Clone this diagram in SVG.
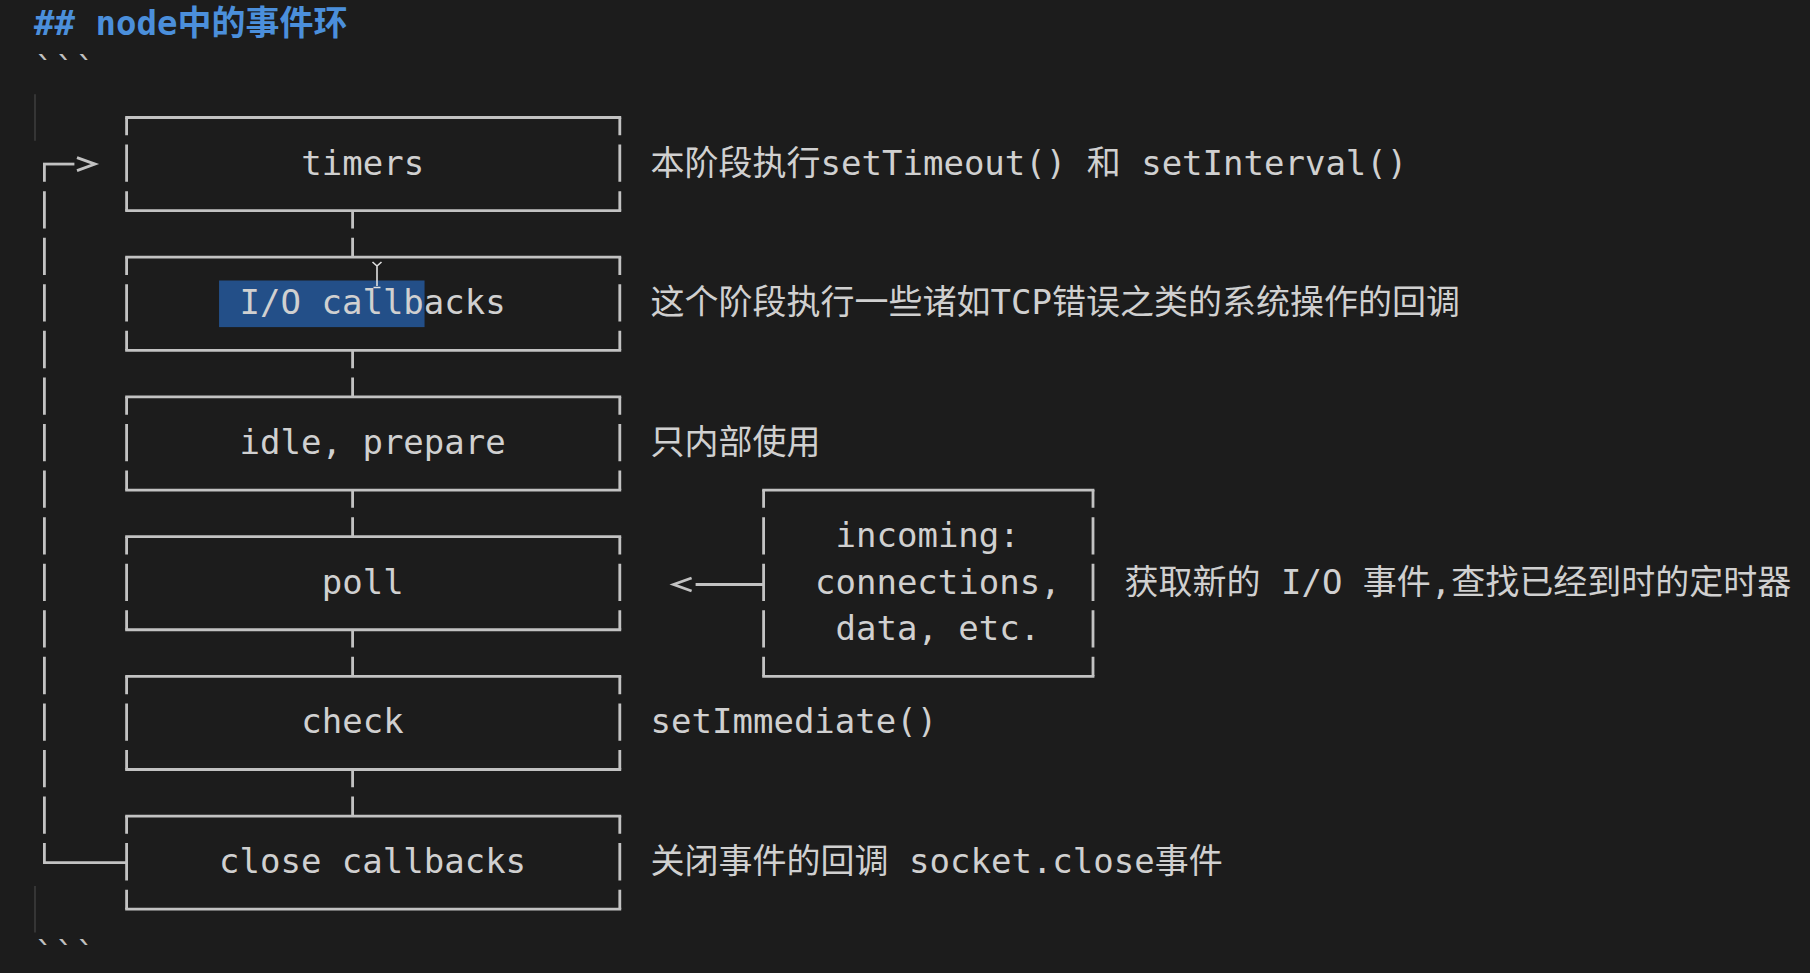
<svg xmlns="http://www.w3.org/2000/svg" width="1810" height="973" viewBox="0 0 1810 973">
<style>
.bg { fill:#1c1c1c; }
.ln { stroke:#c2c2c2; stroke-width:2.8; fill:none; }
.hz { stroke-linecap:square; }
.dash { stroke-dasharray:37.3 9.27; stroke-dashoffset:19.5; }
.t { font-family:'DejaVu Sans Mono','Noto Sans CJK SC',monospace; font-size:34px; fill:#d0d0d0; }
.h { fill:#4b8fdb; font-weight:bold; }
.fence { fill:#c0c0c0; }
.guide { stroke:#3d3d3d; stroke-width:1.6; }
</style>
<defs>
<marker id="chev" markerUnits="userSpaceOnUse" markerWidth="30" markerHeight="20" refX="-4" refY="6.5" orient="auto" overflow="visible">
<path d="M0 0 L18 6.5 L0 13" fill="none" stroke="#c2c2c2" stroke-width="2.8"/>
</marker>
</defs>
<rect class="bg" x="0" y="0" width="1810" height="973"/>

<g id="title"><text class="t h" x="34.1" y="34.5">## node中的事件环</text></g>
<g id="fence-top"><text class="t fence" x="34.1" y="81">```</text></g>
<g id="fence-bottom"><text class="t fence" x="34.1" y="966">```</text></g>
<g id="indent-guides">
<line class="guide" x1="35" y1="94.2" x2="35" y2="140.8"/>
<line class="guide" x1="35" y1="885.9" x2="35" y2="932.5"/>
</g>

<g id="selection"><rect x="219.05" y="280.5" width="205.5" height="46.6" fill="#234f88"/></g>

<g id="connectors">
<line class="ln dash" x1="352.6" y1="210.64" x2="352.6" y2="257.21"/>
<line class="ln dash" x1="352.6" y1="350.35" x2="352.6" y2="396.92"/>
<line class="ln dash" x1="352.6" y1="490.06" x2="352.6" y2="536.63"/>
<line class="ln dash" x1="352.6" y1="629.77" x2="352.6" y2="676.34"/>
<line class="ln dash" x1="352.6" y1="769.48" x2="352.6" y2="816.05"/>
<line class="ln dash" x1="44.4" y1="164.07" x2="44.4" y2="862.62"/>
<line class="ln hz" x1="44.4" y1="862.62" x2="126.6" y2="862.62"/>
<line class="ln hz" x1="44.4" y1="164.07" x2="73" y2="164.07" marker-end="url(#chev)"/>
<line class="ln" x1="763.6" y1="584.5" x2="695.6" y2="584.5" marker-end="url(#chev)"/>
</g>

<g id="node-timers">
<line class="ln hz" x1="126.6" y1="117.5" x2="619.8" y2="117.5"/>
<line class="ln hz" x1="126.6" y1="210.64" x2="619.8" y2="210.64"/>
<line class="ln dash" x1="126.6" y1="117.5" x2="126.6" y2="210.64"/>
<line class="ln dash" x1="619.8" y1="117.5" x2="619.8" y2="210.64"/>
<text class="t" x="301.3" y="174.5">timers</text>
</g>
<g id="node-io-callbacks">
<line class="ln hz" x1="126.6" y1="257.21" x2="619.8" y2="257.21"/>
<line class="ln hz" x1="126.6" y1="350.35" x2="619.8" y2="350.35"/>
<line class="ln dash" x1="126.6" y1="257.21" x2="126.6" y2="350.35"/>
<line class="ln dash" x1="619.8" y1="257.21" x2="619.8" y2="350.35"/>
<text class="t" x="239.6" y="314.2">I/O callbacks</text>
</g>
<g id="node-idle-prepare">
<line class="ln hz" x1="126.6" y1="396.92" x2="619.8" y2="396.92"/>
<line class="ln hz" x1="126.6" y1="490.06" x2="619.8" y2="490.06"/>
<line class="ln dash" x1="126.6" y1="396.92" x2="126.6" y2="490.06"/>
<line class="ln dash" x1="619.8" y1="396.92" x2="619.8" y2="490.06"/>
<text class="t" x="239.6" y="453.9">idle, prepare</text>
</g>
<g id="node-poll">
<line class="ln hz" x1="126.6" y1="536.63" x2="619.8" y2="536.63"/>
<line class="ln hz" x1="126.6" y1="629.77" x2="619.8" y2="629.77"/>
<line class="ln dash" x1="126.6" y1="536.63" x2="126.6" y2="629.77"/>
<line class="ln dash" x1="619.8" y1="536.63" x2="619.8" y2="629.77"/>
<text class="t" x="321.8" y="593.6">poll</text>
</g>
<g id="node-check">
<line class="ln hz" x1="126.6" y1="676.34" x2="619.8" y2="676.34"/>
<line class="ln hz" x1="126.6" y1="769.48" x2="619.8" y2="769.48"/>
<line class="ln dash" x1="126.6" y1="676.34" x2="126.6" y2="769.48"/>
<line class="ln dash" x1="619.8" y1="676.34" x2="619.8" y2="769.48"/>
<text class="t" x="301.3" y="733.3">check</text>
</g>
<g id="node-close-callbacks">
<line class="ln hz" x1="126.6" y1="816.05" x2="619.8" y2="816.05"/>
<line class="ln hz" x1="126.6" y1="909.19" x2="619.8" y2="909.19"/>
<line class="ln dash" x1="126.6" y1="816.05" x2="126.6" y2="909.19"/>
<line class="ln dash" x1="619.8" y1="816.05" x2="619.8" y2="909.19"/>
<text class="t" x="219.05" y="873">close callbacks</text>
</g>
<g id="node-incoming">
<line class="ln hz" x1="763.6" y1="490.06" x2="1093" y2="490.06"/>
<line class="ln hz" x1="763.6" y1="676.34" x2="1093" y2="676.34"/>
<line class="ln dash" x1="763.6" y1="490.06" x2="763.6" y2="676.34"/>
<line class="ln dash" x1="1093" y1="490.06" x2="1093" y2="676.34"/>
<text class="t" x="835.55" y="547">incoming:</text>
<text class="t" x="815" y="593.6">connections,</text>
<text class="t" x="835.55" y="640.2">data, etc.</text>
</g>

<g id="desc-timers"><text class="t" x="650.6" y="174.5" xml:space="preserve">本阶段执行setTimeout() 和 setInterval()</text></g>
<g id="desc-io"><text class="t" x="650.6" y="314.2">这个阶段执行一些诸如TCP错误之类的系统操作的回调</text></g>
<g id="desc-idle"><text class="t" x="650.6" y="453.9">只内部使用</text></g>
<g id="desc-poll"><text class="t" x="1124.5" y="593.6" xml:space="preserve">获取新的 I/O 事件,查找已经到时的定时器</text></g>
<g id="desc-check"><text class="t" x="650.6" y="733.3">setImmediate()</text></g>
<g id="desc-close"><text class="t" x="650.6" y="873" xml:space="preserve">关闭事件的回调 socket.close事件</text></g>

<g id="cursor">
<path d="M372.5 262 L377 266 L381.5 262 M377 266 V286 M373.5 287.5 H380.5" fill="none" stroke="#e0e0e0" stroke-width="1.6"/>
</g>
</svg>
